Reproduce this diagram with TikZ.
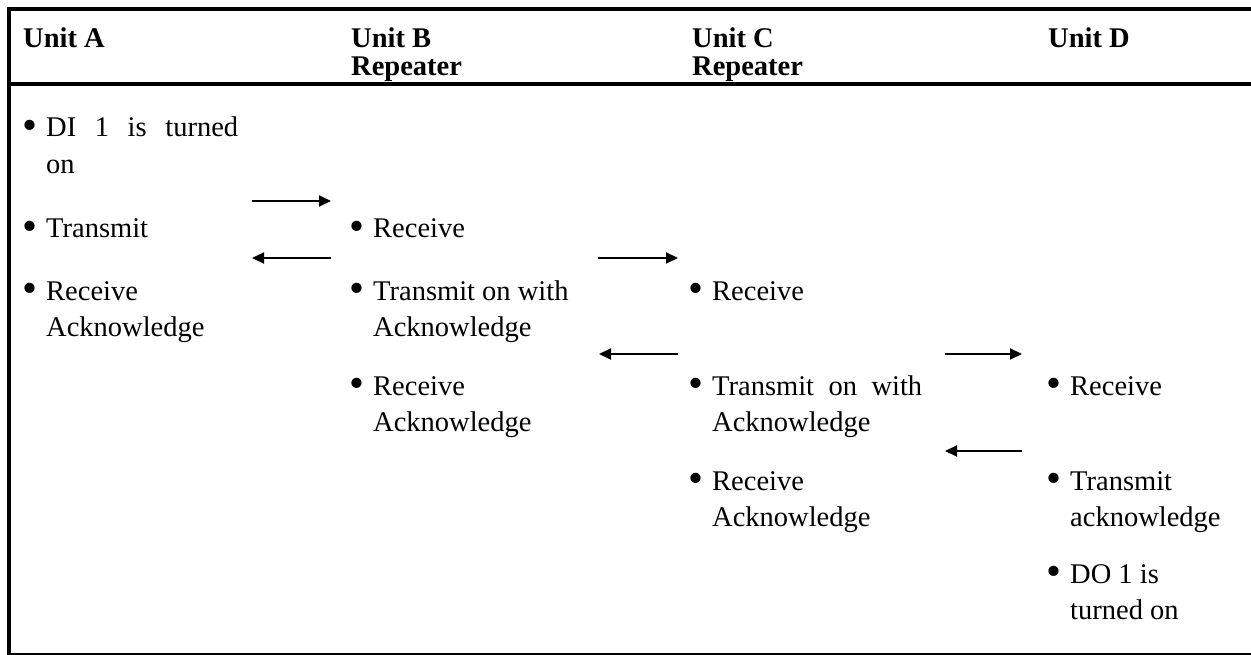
\documentclass[tikz,border=0pt]{standalone}
\usepackage{fontspec}
\setmainfont{Liberation Serif}
\usetikzlibrary{arrows.meta}
\newcommand{\bul}{\leavevmode\llap{\raisebox{-2.6bp}{\scalebox{1.5}{\textbullet}}\hskip 8.5bp}}
\begin{document}
\begin{tikzpicture}[x=1bp,y=-1bp,
  hdr/.style={anchor=base west, inner sep=0pt, font=\bfseries\fontsize{28.5bp}{27.5bp}\selectfont},
  item/.style={anchor=base west, inner sep=0pt, font=\fontsize{28.5bp}{36.5bp}\selectfont},
  rule/.style={line width=4bp, line cap=butt},
  arr/.style={line width=2bp, -{Triangle[length=12bp,width=11bp]}}]
\useasboundingbox (0,0) rectangle (1251,655);
% table rules
\draw[rule] (7.3,9) -- (1251,9);
\draw[rule] (9.3,7) -- (9.3,655);
\draw[line width=4.5bp] (7.3,84) -- (1251,84);
\draw[line width=1.2bp] (7.3,654) -- (1251,654);
% headers
\node[hdr] (hA) at (23,48) {Unit A};
\node[hdr] (hB) at (351,48) {\parbox[t]{250bp}{Unit B\\Repeater}};
\node[hdr] (hC) at (692,48) {\parbox[t]{250bp}{Unit C\\Repeater}};
\node[hdr] (hD) at (1048,48) {Unit D};
% column A
\node[item] (a1) at (46,137) {\parbox[t]{250bp}{\bul\makebox[192bp][s]{DI 1 is turned}\\on}};
\node[item] (a2) at (46,238) {\parbox[t]{250bp}{\bul Transmit}};
\node[item] (a3) at (46,300) {\parbox[t]{250bp}{\bul Receive\\Acknowledge}};
% column B
\node[item] (b1) at (373,238) {\parbox[t]{250bp}{\bul Receive}};
\node[item] (b2) at (373,300) {\parbox[t]{250bp}{\bul Transmit on with\\Acknowledge}};
\node[item] (b3) at (373,395) {\parbox[t]{250bp}{\bul Receive\\Acknowledge}};
% column C
\node[item] (c1) at (712,300) {\parbox[t]{250bp}{\bul Receive}};
\node[item] (c2) at (712,395) {\parbox[t]{250bp}{\bul\makebox[210bp][s]{Transmit on with}\\Acknowledge}};
\node[item] (c3) at (712,490) {\parbox[t]{250bp}{\bul Receive\\Acknowledge}};
% column D
\node[item] (d1) at (1070,395) {\parbox[t]{250bp}{\bul Receive}};
\node[item] (d2) at (1070,490) {\parbox[t]{250bp}{\bul Transmit\\acknowledge}};
\node[item] (d3) at (1070,583) {\parbox[t]{250bp}{\bul DO 1 is\\turned on}};
% arrows
\coordinate (abR1) at (252,201); \coordinate (abR2) at (331,201);
\coordinate (abL1) at (331,258); \coordinate (abL2) at (252,258);
\coordinate (bcR1) at (598,258); \coordinate (bcR2) at (678,258);
\coordinate (bcL1) at (678,354); \coordinate (bcL2) at (599,354);
\coordinate (cdR1) at (945,354); \coordinate (cdR2) at (1022,354);
\coordinate (cdL1) at (1022,451); \coordinate (cdL2) at (945,451);
\draw[arr] (abR1) -- (abR2);
\draw[arr] (abL1) -- (abL2);
\draw[arr] (bcR1) -- (bcR2);
\draw[arr] (bcL1) -- (bcL2);
\draw[arr] (cdR1) -- (cdR2);
\draw[arr] (cdL1) -- (cdL2);
\end{tikzpicture}
\end{document}
